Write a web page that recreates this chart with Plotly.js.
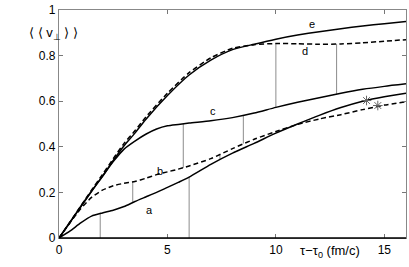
<!DOCTYPE html>
<html>
<head>
<meta charset="utf-8">
<script src="https://cdn.plot.ly/plotly-3.0.1.min.js"></script>
<style>html,body{margin:0;padding:0;background:#fff;}#plot{width:409px;height:267px;}</style>
</head>
<body>
<div id="plot"></div>
<script>
// Curve data (tau - tau0 in fm/c, <<v_perp>>)
const xE = [0, 0.5, 1, 1.5, 2, 2.5, 3, 3.5, 4, 5, 6, 7, 8, 9, 10, 11, 12, 13, 14, 15, 16];
const yE = [0, 0.068, 0.137, 0.205, 0.27, 0.34, 0.405, 0.46, 0.52, 0.625, 0.715, 0.78, 0.826, 0.85, 0.872, 0.89, 0.905, 0.918, 0.93, 0.94, 0.95];

const xD = [0, 0.5, 1, 1.5, 2, 2.5, 3, 3.5, 4, 5, 6, 7, 8, 9, 10, 11, 12, 13, 14, 15, 16];
const yD = [0, 0.069, 0.14, 0.21, 0.278, 0.348, 0.415, 0.47, 0.53, 0.635, 0.725, 0.79, 0.832, 0.848, 0.853, 0.852, 0.850, 0.851, 0.856, 0.863, 0.87];

const xC = [0, 0.5, 1, 1.5, 2, 2.5, 3, 3.5, 4, 4.5, 5, 5.5, 6, 7, 8, 9, 10, 11, 12, 13, 14, 15, 16];
const yC = [0, 0.068, 0.137, 0.205, 0.27, 0.335, 0.39, 0.425, 0.455, 0.478, 0.492, 0.498, 0.504, 0.514, 0.528, 0.548, 0.573, 0.595, 0.615, 0.635, 0.652, 0.665, 0.676];

const xB = [0, 0.5, 1, 1.5, 2, 2.5, 3, 3.5, 4, 4.5, 5, 5.5, 6, 7, 8, 9, 10, 11, 12, 13, 14, 15, 16];
const yB = [0, 0.066, 0.128, 0.178, 0.21, 0.229, 0.24, 0.248, 0.262, 0.278, 0.29, 0.302, 0.316, 0.348, 0.392, 0.433, 0.467, 0.498, 0.522, 0.541, 0.563, 0.583, 0.597];

const xA = [0, 0.5, 1, 1.5, 2, 2.5, 3, 3.5, 4, 4.5, 5, 5.5, 6, 7, 8, 9, 10, 11, 12, 13, 14, 15, 16];
const yA = [0, 0.03, 0.066, 0.096, 0.11, 0.122, 0.138, 0.16, 0.18, 0.2, 0.222, 0.244, 0.267, 0.323, 0.372, 0.415, 0.46, 0.5, 0.538, 0.572, 0.6, 0.62, 0.635];

// vertical gray segments: x, bottom, top
const segX   = [1.9, 3.4, 6.0, 5.73, 7.42, 8.5, 10, 12.8];
const segLo  = [0, 0.157, 0, 0.307, 0.347, 0.414, 0.573, 0.632];
const segHi  = [0.11, 0.246, 0.267, 0.50, 0.366, 0.537, 0.853, 0.851];

// asterisk markers
const starX = [14.18, 14.7];
const starY = [0.603, 0.581];

// curve labels
const labText = ['a', 'b', 'c', 'd', 'e'];
const labX = [4.15, 4.65, 7.1, 11.35, 11.65];
const labY = [0.125, 0.295, 0.555, 0.82, 0.94];

const xTicks = [0, 5, 10, 15];
const yTicks = [0, 0.2, 0.4, 0.6, 0.8, 1];
const yTickText = ['0', '0.2', '0.4', '0.6', '0.8', '1'];

const sx = [], sy = [];
for (let i = 0; i < segX.length; i++) {
  sx.push(segX[i], segX[i], null);
  sy.push(segLo[i], segHi[i], null);
}

const FONT = 'Liberation Sans, Arial, sans-serif';
const traces = [
  {x: sx, y: sy, mode: 'lines', line: {color: '#8c8c8c', width: 1}, hoverinfo: 'skip'},
  {x: xA, y: yA, mode: 'lines', line: {color: '#000', width: 1.5, shape: 'spline', smoothing: 0.6}},
  {x: xB, y: yB, mode: 'lines', line: {color: '#000', width: 1.5, dash: '5px,3px', shape: 'spline', smoothing: 0.6}},
  {x: xC, y: yC, mode: 'lines', line: {color: '#000', width: 1.5, shape: 'spline', smoothing: 0.6}},
  {x: xD, y: yD, mode: 'lines', line: {color: '#000', width: 1.5, dash: '5px,3px', shape: 'spline', smoothing: 0.6}},
  {x: xE, y: yE, mode: 'lines', line: {color: '#000', width: 1.5, shape: 'spline', smoothing: 0.6}},
  {x: starX, y: starY, mode: 'markers', marker: {symbol: 'asterisk-open', size: 8, color: '#666', line: {color: '#666', width: 1}}}
];

const ann = labText.map((t, i) => ({
  x: labX[i], y: labY[i], xref: 'x', yref: 'y', text: t, showarrow: false,
  font: {family: FONT, size: 11, color: '#000'}
}));
ann.push({
  x: 12.5, y: -0.012, xref: 'x', yref: 'paper', yanchor: 'top', text: 'τ−τ<sub>0</sub> (fm/c)',
  showarrow: false, font: {family: FONT, size: 13, color: '#000'}
});
ann.push({
  x: -0.092, y: 0.895, xref: 'paper', yref: 'y', text: '⟨ ⟨ v<sub>⊥</sub> ⟩ ⟩',
  showarrow: false, font: {family: FONT, size: 13, color: '#000'}
});

const layout = {
  width: 409, height: 267,
  margin: {l: 59, r: 3, t: 10, b: 29, pad: 0},
  paper_bgcolor: '#fff', plot_bgcolor: '#fff',
  showlegend: false,
  font: {family: FONT, size: 12, color: '#000'},
  xaxis: {
    range: [0, 16], tickvals: xTicks, ticktext: xTicks.map(String),
    ticks: 'inside', ticklen: 4, tickcolor: '#777', tickwidth: 1,
    showline: true, linecolor: '#888', linewidth: 1.2, mirror: 'ticks',
    showgrid: false, zeroline: false, fixedrange: true
  },
  yaxis: {
    range: [0, 1], tickvals: yTicks, ticktext: yTickText,
    ticks: 'inside', ticklen: 4, tickcolor: '#777', tickwidth: 1,
    showline: true, linecolor: '#888', linewidth: 1.2, mirror: 'ticks',
    showgrid: false, zeroline: false, fixedrange: true
  },
  shapes: [
    {type: 'line', xref: 'paper', yref: 'paper', x0: 0, x1: 1, y0: 0, y1: 0, line: {color: '#000', width: 1.3}}
  ],
  annotations: ann
};

Plotly.newPlot('plot', traces, layout, {displayModeBar: false, staticPlot: true});
</script>
</body>
</html>
